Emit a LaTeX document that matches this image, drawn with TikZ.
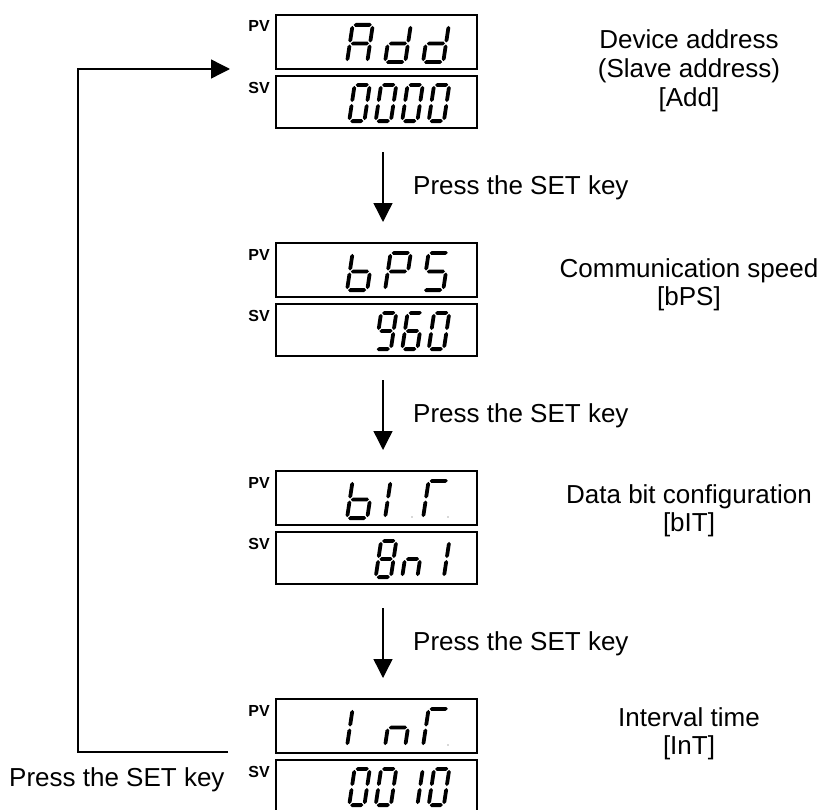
\documentclass[tikz,border=0pt]{standalone}
\usepackage{fontspec}
\setmainfont{Liberation Sans}
\usetikzlibrary{arrows.meta}

\def\dW{24}\def\dH{41}\def\dT{3.8}\def\dG{1.0}
\newcommand{\segH}[3]{\fill ({#1},{#3}) -- ({#1+\dT/2},{#3-\dT/2}) -- ({#2-\dT/2},{#3-\dT/2}) -- ({#2},{#3}) -- ({#2-\dT/2},{#3+\dT/2}) -- ({#1+\dT/2},{#3+\dT/2}) -- cycle;}
\newcommand{\segV}[3]{\fill ({#1},{#2}) -- ({#1+\dT/2},{#2+\dT/2}) -- ({#1+\dT/2},{#3-\dT/2}) -- ({#1},{#3}) -- ({#1-\dT/2},{#3-\dT/2}) -- ({#1-\dT/2},{#2+\dT/2}) -- cycle;}
\newcommand{\SGa}{\segH{\dT/2+\dG}{\dW-\dT/2-\dG}{\dT/2}}
\newcommand{\SGb}{\segV{\dW-\dT/2}{\dT/2+\dG}{\dH/2-\dG}}
\newcommand{\SGc}{\segV{\dW-\dT/2}{\dH/2+\dG}{\dH-\dT/2-\dG}}
\newcommand{\SGd}{\segH{\dT/2+\dG}{\dW-\dT/2-\dG}{\dH-\dT/2}}
\newcommand{\SGe}{\segV{\dT/2}{\dH/2+\dG}{\dH-\dT/2-\dG}}
\newcommand{\SGf}{\segV{\dT/2}{\dT/2+\dG}{\dH/2-\dG}}
\newcommand{\SGg}{\segH{\dT/2+\dG}{\dW-\dT/2-\dG}{\dH/2}}
\newcommand{\sevdig}[5]{\begin{scope}[shift={(#1,#2)},xslant=0.15]\def\dW{#3}\def\dH{#4}\foreach \s in {#5}{\csname SG\s\endcsname}\end{scope}}
\newcommand{\pvd}[3]{\sevdig{#1}{#2}{24}{41}{#3}}
\newcommand{\svd}[3]{\sevdig{#1}{#2}{19}{40}{#3}}

\tikzset{
  dbox/.style={draw, line width=1.5bp, minimum width=201bp, inner sep=0pt},
  lbl/.style={font=\bfseries\fontsize{16bp}{16bp}\selectfont, inner sep=0pt},
  desc/.style={font=\fontsize{26bp}{28.5bp}\selectfont, align=center, inner sep=0pt},
  keytxt/.style={font=\fontsize{26bp}{28.5bp}\selectfont, inner sep=0pt},
  arr/.style={line width=1.4bp, -{Triangle[length=19bp,width=19bp]}},
  ddot/.style={fill=black!30},
}

\begin{document}
\begin{tikzpicture}[x=1bp,y=-1bp]
\useasboundingbox[fill=white] (0,0) rectangle (827,810);

% ---------- group 1 (T=15)
\node[dbox, minimum height=54bp] (pv1) at (376.5,42) {};
\node[dbox, minimum height=52bp] (sv1) at (376.5,102) {};
\node[lbl, anchor=base east] (pvl1) at (270,32) {PV};
\node[lbl, anchor=base east] (svl1) at (270,93) {SV};
\pvd{351}{23}{a,b,c,e,f,g}
\pvd{389}{23}{b,c,d,e,g}
\pvd{427}{23}{b,c,d,e,g}
\svd{353}{83}{a,b,c,d,e,f}
\svd{379.5}{83}{a,b,c,d,e,f}
\svd{406}{83}{a,b,c,d,e,f}
\svd{432.5}{83}{a,b,c,d,e,f}
\node[desc, anchor=base] (d1) at (689,106) {Device address\\(Slave address)\\{[Add]}};

% arrow 1
\coordinate (a1s) at (383,152);
\coordinate (a1e) at (383,222);
\draw[arr] (a1s) -- (a1e);
\node[keytxt, anchor=base west] (k1) at (413,194) {Press the SET key};

% ---------- group 2 (T=243)
\node[dbox, minimum height=54bp] (pv2) at (376.5,270) {};
\node[dbox, minimum height=52bp] (sv2) at (376.5,330) {};
\node[lbl, anchor=base east] (pvl2) at (270,260) {PV};
\node[lbl, anchor=base east] (svl2) at (270,321) {SV};
\pvd{351}{251}{c,d,e,f,g}
\pvd{389}{251}{a,b,e,f,g}
\pvd{427}{251}{a,c,d,f,g}
\svd{379.5}{311}{a,b,c,d,f,g}
\svd{406}{311}{a,c,d,e,f,g}
\svd{432.5}{311}{a,b,c,d,e,f}
\node[desc, anchor=base] (d2) at (689,305.5) {Communication speed\\{[bPS]}};

% arrow 2
\coordinate (a2s) at (383,380);
\coordinate (a2e) at (383,450);
\draw[arr] (a2s) -- (a2e);
\node[keytxt, anchor=base west] (k2) at (413,422) {Press the SET key};

% ---------- group 3 (T=471)
\node[dbox, minimum height=54bp] (pv3) at (376.5,498) {};
\node[dbox, minimum height=52bp] (sv3) at (376.5,558) {};
\node[lbl, anchor=base east] (pvl3) at (270,488) {PV};
\node[lbl, anchor=base east] (svl3) at (270,549) {SV};
\pvd{351}{479}{c,d,e,f,g}
\pvd{389}{479}{e,f}
\pvd{427}{479}{a,e,f}
\fill[ddot] (412,517) circle (0.8);
\fill[ddot] (448,517) circle (0.8);
\svd{379.5}{539}{a,b,c,d,e,f,g}
\svd{406}{539}{c,e,g}
\svd{432.5}{539}{b,c}
\node[desc, anchor=base] (d3) at (689,531.5) {Data bit configuration\\{[bIT]}};

% arrow 3
\coordinate (a3s) at (383,608);
\coordinate (a3e) at (383,678);
\draw[arr] (a3s) -- (a3e);
\node[keytxt, anchor=base west] (k3) at (413,650) {Press the SET key};

% ---------- group 4 (T=699)
\node[dbox, minimum height=54bp] (pv4) at (376.5,726) {};
\node[dbox, minimum height=52bp] (sv4) at (376.5,786) {};
\node[lbl, anchor=base east] (pvl4) at (270,716) {PV};
\node[lbl, anchor=base east] (svl4) at (270,777) {SV};
\pvd{351}{707}{e,f}
\pvd{389}{707}{c,e,g}
\pvd{427}{707}{a,e,f}
\fill[ddot] (448,745) circle (0.8);
\svd{353}{767}{a,b,c,d,e,f}
\svd{379.5}{767}{a,b,c,d,e,f}
\svd{406}{767}{b,c}
\svd{432.5}{767}{a,b,c,d,e,f}
\node[desc, anchor=base] (d4) at (689,754.5) {Interval time\\{[InT]}};

% feedback loop
\node[keytxt, anchor=base west] (k4) at (9,786) {Press the SET key};
\coordinate (fbs) at (228,752);
\coordinate (fbe) at (230,69);
\draw[arr] (fbs) -- ++(-150,0) |- (fbe);
\end{tikzpicture}
\end{document}
